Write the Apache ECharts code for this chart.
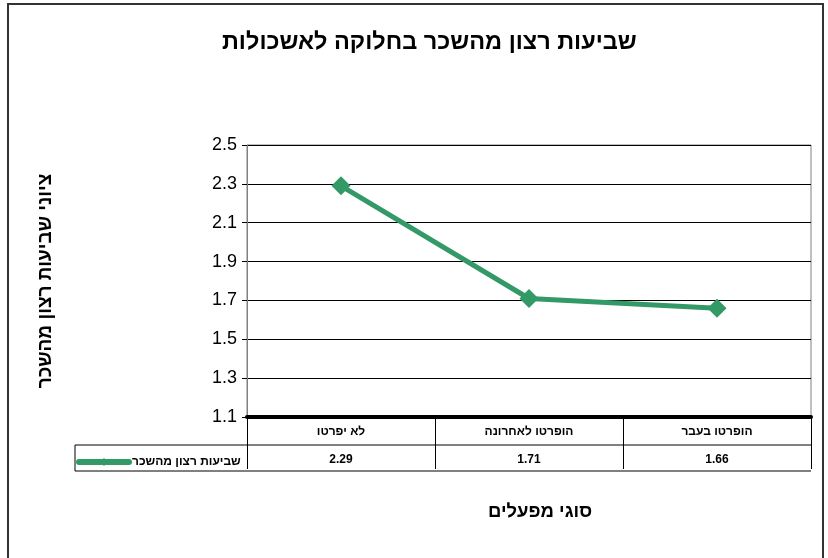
<!DOCTYPE html>
<html>
<head>
<meta charset="utf-8">
<script src="https://cdn.jsdelivr.net/npm/echarts@6/dist/echarts.min.js"></script>
<style>
  html, body { margin: 0; padding: 0; background: #fff; }
  #chart { width: 828px; height: 558px; }
</style>
</head>
<body>
<div id="chart"></div>
<script>
// Satisfaction scores per plant type
const categories = ['לא יפרטו', 'הופרטו לאחרונה', 'הופרטו בעבר'];
const scores = [2.29, 1.71, 1.66];
const seriesName = 'שביעות רצון מהשכר';
const yTicks = { min: 1.1, max: 2.5, step: 0.2 };

const FONT = '"Liberation Sans", Arial, sans-serif';
const GREEN = '#339966';

// grid geometry (pixels)
const G = { left: 247, right: 811, top: 145, bottom: 417 };
const W = 828, H = 558;
const rowH = 26;

const chart = echarts.init(document.getElementById('chart'), null, { renderer: 'canvas' });

chart.setOption({
  animation: false,
  backgroundColor: '#fff',
  title: {
    text: 'שביעות רצון מהשכר בחלוקה לאשכולות',
    left: 217,
    top: 26,
    textStyle: { fontFamily: FONT, fontSize: 23.5, fontWeight: 'bold', color: '#000' }
  },
  legend: {
    left: 71,
    top: G.bottom + rowH + 8,
    itemWidth: 50,
    itemHeight: 10,
    itemGap: 2,
    selectedMode: false,
    data: [seriesName],
    lineStyle: { width: 6, cap: 'round' },
    textStyle: { fontFamily: FONT, fontSize: 12, fontWeight: 'bold', color: '#000', padding: [0, 0, 0, -2] }
  },
  grid: {
    left: G.left,
    right: W - G.right,
    top: G.top,
    bottom: H - G.bottom,
    show: true,
    borderColor: '#808080',
    borderWidth: 1
  },
  xAxis: [
    {
      type: 'category',
      data: categories,
      boundaryGap: true,
      position: 'bottom',
      axisLine: { show: true, onZero: false, lineStyle: { color: '#000', width: 4 } },
      axisTick: { show: true, alignWithLabel: false, length: rowH * 2, lineStyle: { color: '#000', width: 1 } },
      axisLabel: { margin: 9, fontFamily: FONT, fontSize: 12, fontWeight: 'bold', color: '#000' },
      splitLine: { show: false },
      name: 'סוגי מפעלים',
      nameLocation: 'middle',
      nameGap: 85,
      nameTextStyle: { fontFamily: FONT, fontSize: 18.5, fontWeight: 'bold', color: '#000', padding: [0, 0, 0, 22] }
    },
    {
      type: 'category',
      data: scores.map(v => v.toFixed(2)),
      position: 'bottom',
      offset: rowH,
      axisLine: { show: false },
      axisTick: { show: false },
      axisLabel: { margin: 11, fontFamily: FONT, fontSize: 12, fontWeight: 'bold', color: '#000' }
    }
  ],
  yAxis: {
    type: 'value',
    min: yTicks.min,
    max: yTicks.max,
    interval: yTicks.step,
    axisLine: { show: true, lineStyle: { color: '#808080', width: 1 } },
    axisTick: { show: true, length: 5, lineStyle: { color: '#000' } },
    axisLabel: {
      margin: 10,
      fontFamily: FONT,
      fontSize: 18,
      color: '#000',
      formatter: v => v.toFixed(1)
    },
    splitLine: { show: true, lineStyle: { color: '#000', width: 1 } },
    name: 'ציוני שביעות רצון מהשכר',
    nameLocation: 'middle',
    nameRotate: 90,
    nameGap: 192,
    nameTextStyle: { fontFamily: FONT, fontSize: 19, fontWeight: 'bold', color: '#000' }
  },
  series: [
    {
      name: seriesName,
      type: 'line',
      data: scores,
      xAxisIndex: 0,
      symbol: 'diamond',
      symbolSize: 19,
      lineStyle: { color: GREEN, width: 5 },
      itemStyle: { color: GREEN },
      z: 5
    }
  ],
  graphic: [
    // outer chart frame
    {
      type: 'rect',
      shape: { x: 8, y: 4, width: 815, height: 570 },
      style: { fill: null, stroke: '#333', lineWidth: 2 },
      silent: true
    },
    // data table rows
    {
      type: 'line',
      shape: { x1: 75, y1: G.bottom + rowH + 2, x2: G.right, y2: G.bottom + rowH + 2 },
      style: { stroke: '#000', lineWidth: 1 },
      silent: true
    },
    {
      type: 'line',
      shape: { x1: 75, y1: G.bottom + rowH * 2 + 2, x2: G.right, y2: G.bottom + rowH * 2 + 2 },
      style: { stroke: '#000', lineWidth: 1 },
      silent: true
    },
    {
      type: 'line',
      shape: { x1: 75, y1: G.bottom + rowH + 2, x2: 75, y2: G.bottom + rowH * 2 + 2 },
      style: { stroke: '#000', lineWidth: 1 },
      silent: true
    }
  ]
});
</script>
</body>
</html>
